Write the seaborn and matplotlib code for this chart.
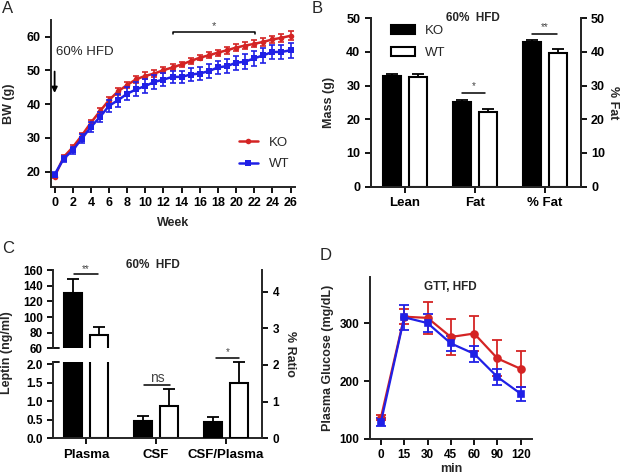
import numpy as np
import pandas as pd
import matplotlib
matplotlib.use("Agg")
import matplotlib.pyplot as plt
import seaborn as sns

# ── A: body weight on 60% HFD ───────────────────────────────────────────────
weeks = list(range(27))
ko_bw = [18.5, 24.3, 27.2, 30.7, 34.5, 37.9, 41.2, 43.8, 45.7, 47.4, 48.4, 49.1, 50.1, 50.9,
         51.8, 52.8, 53.8, 54.5, 55.3, 56.0, 56.8, 57.4, 57.9, 58.5, 59.2, 59.7, 60.3]
ko_bw_err = [0.5, 0.6, 0.7, 0.8, 0.9, 0.9, 1.0, 1.0, 1.0, 1.0, 1.0, 0.9, 0.9, 0.9,
             0.8, 0.8, 0.8, 0.9, 0.9, 1.0, 1.0, 1.0, 1.0, 1.1, 1.1, 1.2, 1.3]
wt_bw = [19.1, 23.8, 26.3, 29.8, 33.2, 36.2, 39.5, 41.2, 43.1, 44.4, 45.4, 46.6, 47.3, 48.1,
         48.1, 48.8, 49.1, 49.8, 50.9, 51.3, 52.3, 52.6, 53.6, 54.5, 55.5, 55.5, 56.0]
wt_bw_err = [0.8, 0.9, 1.0, 1.3, 1.5, 1.6, 1.8, 1.9, 2.0, 2.1, 2.1, 2.1, 2.0, 1.8,
             1.8, 1.9, 2.0, 2.0, 2.0, 2.1, 2.1, 2.2, 2.2, 2.2, 2.2, 2.2, 2.2]

# ── B: body composition ─────────────────────────────────────────────────────
b_cats = ["Lean", "Fat", "% Fat"]
b_ko = [32.9, 25.0, 42.9]
b_ko_err = [0.5, 0.7, 0.8]
b_wt = [32.5, 22.3, 39.8]
b_wt_err = [1.0, 0.7, 1.0]

# ── C: leptin ───────────────────────────────────────────────────────────────
c_cats = ["Plasma", "CSF", "CSF/Plasma"]
c_ko = [130.8, 0.48, 0.44]
c_ko_err = [17.5, 0.12, 0.13]
c_wt = [77.0, 0.88, 1.52]
c_wt_err = [10.5, 0.44, 0.55]

# ── D: GTT ──────────────────────────────────────────────────────────────────
d_times = ["0", "15", "30", "45", "60", "90", "120"]
d_ko = [137, 311, 309, 276, 282, 239, 221]
d_ko_err = [5, 13, 28, 31, 31, 31, 31]
d_wt = [129, 310, 300, 265, 247, 207, 178]
d_wt_err = [7, 22, 15, 13, 14, 13, 12]

RED = "#d42424"
BLUE = "#2020e6"
groups = ["KO", "WT"]
bar_pal = {"KO": "black", "WT": "white"}
dodge = {"KO": -0.1875, "WT": 0.1875}

sns.set_style("ticks")
plt.rcParams["font.family"] = ["Liberation Sans", "DejaVu Sans"]
plt.rcParams["font.weight"] = "bold"
plt.rcParams["axes.labelweight"] = "bold"
plt.rcParams["axes.labelsize"] = 9
plt.rcParams["axes.linewidth"] = 1.4
plt.rcParams["xtick.labelsize"] = 8.5
plt.rcParams["ytick.labelsize"] = 8.5
for a in ("xtick", "ytick"):
    plt.rcParams[f"{a}.major.width"] = 1.3
    plt.rcParams[f"{a}.major.size"] = 4
    plt.rcParams[f"{a}.direction"] = "out"
    plt.rcParams[f"{a}.color"] = "black"

fig = plt.figure(figsize=(6.21, 4.75), dpi=100)

axA = fig.add_axes([0.0821, 0.607, 0.393, 0.351])
axB = fig.add_axes([0.597, 0.607, 0.338, 0.3545])
axC_lo = fig.add_axes([0.0858, 0.0773, 0.3366, 0.1606])
axC_hi = fig.add_axes([0.0858, 0.2667, 0.3366, 0.1648])
axC_r = fig.add_axes([0.0858, 0.0773, 0.3366, 0.3543])
axD = fig.add_axes([0.5958, 0.0758, 0.2604, 0.3404])


def bar_errors(ax, idx, ko, ko_err, wt, wt_err):
    idx = np.asarray(idx)
    for g, v, e in (("KO", ko, ko_err), ("WT", wt, wt_err)):
        v = np.asarray(v)[idx]
        e = np.asarray(e)[idx]
        ax.errorbar(idx + dodge[g], v, yerr=[np.zeros_like(e), e], fmt="none",
                    ecolor="black", elinewidth=1.3, capsize=4, capthick=1.3, zorder=1)


def sig(ax, x0, x1, y, txt, dy, size=7):
    ax.plot([x0, x1], [y, y], color="black", lw=1.1, clip_on=False)
    ax.text((x0 + x1) / 2, y + dy, txt, ha="center", va="bottom", fontsize=size,
            fontweight="normal", color="#444444")


# ── A ───────────────────────────────────────────────────────────────────────
sns.lineplot(x=weeks, y=ko_bw, color=RED, marker="o", markersize=4, markeredgewidth=0,
             linewidth=1.8, ax=axA, label="KO")
axA.errorbar(weeks, ko_bw, yerr=ko_bw_err, fmt="none", ecolor=RED, elinewidth=1.2,
             capsize=2.5, capthick=1.2)
sns.lineplot(x=weeks, y=wt_bw, color=BLUE, marker="s", markersize=4, markeredgewidth=0,
             linewidth=1.8, ax=axA, label="WT")
axA.errorbar(weeks, wt_bw, yerr=wt_bw_err, fmt="none", ecolor=BLUE, elinewidth=1.2,
             capsize=2.5, capthick=1.2)
axA.set_xlim(-0.4, 26.5)
axA.set_ylim(15.5, 65)
axA.set_xticks(range(0, 27, 2))
axA.set_yticks(range(20, 61, 10))
axA.tick_params(labelsize=9)
axA.set_xlabel("Week", labelpad=6)
axA.set_ylabel("BW (g)", labelpad=8)
sns.despine(ax=axA)
axA.legend(loc="center left", bbox_to_anchor=(0.72, 0.2), frameon=False, handlelength=1.5,
           labelspacing=0.7, prop={"weight": "normal", "size": 9.5})
axA.plot([13.1, 13.1, 22.1, 22.1], [60.7, 61.3, 61.3, 60.7], color="black", lw=1.1)
axA.text(17.6, 61.6, "*", ha="center", va="bottom", fontsize=8, fontweight="normal",
         color="#444444")
axA.text(0.2, 55.5, "60% HFD", fontsize=9.5, fontweight="normal", va="center")
axA.annotate("", xy=(0, 42.5), xytext=(0, 50.5),
             arrowprops=dict(arrowstyle="-|>", color="black", lw=1.3, mutation_scale=8))

# ── B ───────────────────────────────────────────────────────────────────────
dfB = pd.DataFrame({"cat": b_cats * 2, "group": ["KO"] * 3 + ["WT"] * 3, "val": b_ko + b_wt})
bar_errors(axB, [0, 1, 2], b_ko, b_ko_err, b_wt, b_wt_err)
sns.barplot(data=dfB, x="cat", y="val", hue="group", hue_order=groups, palette=bar_pal,
            edgecolor="black", linewidth=1.5, width=0.75, gap=0.33, errorbar=None, ax=axB)
axB.set_xlim(-0.49, 2.51)
axB.set_ylim(0, 50)
axB.set_yticks(range(0, 51, 10))
axB.set_xlabel("")
axB.set_ylabel("Mass (g)", labelpad=8)
axB.tick_params(axis="y", labelsize=9)
axB.tick_params(axis="x", labelsize=9.5)
axB.spines["top"].set_visible(False)
axB.legend(loc="upper left", bbox_to_anchor=(0.04, 1.03), frameon=False, title=None,
           handlelength=1.8, handleheight=0.7, labelspacing=0.7,
           prop={"weight": "normal", "size": 9.5})
axB2 = axB.twinx()
axB2.set_ylim(0, 50)
axB2.set_yticks(range(0, 51, 10))
axB2.tick_params(axis="y", labelsize=9)
axB2.set_ylabel("% Fat", rotation=270, labelpad=10)
axB2.spines["top"].set_visible(False)
sig(axB, 0.82, 1.15, 27.7, "*", 0.6)
sig(axB, 1.82, 2.17, 45.2, "**", 0.6)
axB.text(0.487, 1.0, "60%  HFD", transform=axB.transAxes, ha="center", va="center",
         fontsize=8.5)

# ── C ───────────────────────────────────────────────────────────────────────
dfC = pd.DataFrame({"cat": c_cats * 2, "group": ["KO"] * 3 + ["WT"] * 3, "val": c_ko + c_wt})
dfC_left = dfC[dfC["cat"] != "CSF/Plasma"]
dfC_right = dfC[dfC["cat"] == "CSF/Plasma"]
bar_kw = dict(x="cat", y="val", hue="group", order=c_cats, hue_order=groups, palette=bar_pal,
              edgecolor="black", linewidth=1.5, width=0.75, gap=0.33, errorbar=None,
              legend=False)
bar_errors(axC_hi, [0], c_ko, c_ko_err, c_wt, c_wt_err)
sns.barplot(data=dfC_left, ax=axC_hi, **bar_kw)
bar_errors(axC_lo, [1], c_ko, c_ko_err, c_wt, c_wt_err)
sns.barplot(data=dfC_left, ax=axC_lo, **bar_kw)
bar_errors(axC_r, [2], c_ko, c_ko_err, c_wt, c_wt_err)
sns.barplot(data=dfC_right, ax=axC_r, **bar_kw)

for ax in (axC_lo, axC_hi, axC_r):
    ax.set_xlim(-0.47, 2.52)
    ax.set_xlabel("")
    ax.set_ylabel("")
    for s in ax.spines.values():
        s.set_visible(False)

axC_hi.set_ylim(60, 160)
axC_hi.set_yticks(range(60, 161, 20))
axC_hi.spines["left"].set_visible(True)
axC_hi.set_xticks([])

axC_lo.set_ylim(0, 2.06)
axC_lo.set_yticks([0, 0.5, 1.0, 1.5, 2.0])
axC_lo.set_yticklabels(["0.0", "0.5", "1.0", "1.5", "2.0"])
axC_lo.spines["left"].set_visible(True)
axC_lo.spines["bottom"].set_visible(True)
axC_lo.tick_params(axis="x", labelsize=9.5)

axC_r.patch.set_visible(False)
axC_r.set_ylim(0, 4.59)
axC_r.set_yticks(range(0, 5))
axC_r.spines["right"].set_visible(True)
axC_r.yaxis.tick_right()
axC_r.yaxis.set_label_position("right")
axC_r.set_ylabel("% Ratio", rotation=270, labelpad=12)
axC_r.set_xticks([])

# axis-break stubs
axC_hi.plot([0, 0.025], [0, 0], transform=axC_hi.transAxes, color="black", lw=1.3,
            clip_on=False)
axC_lo.plot([0, 0.025], [1, 1], transform=axC_lo.transAxes, color="black", lw=1.3,
            clip_on=False)

sig(axC_hi, -0.17, 0.17, 154.6, "**", 0.5)
sig(axC_lo, 0.83, 1.2, 1.44, "ns", 0.0, size=10)
sig(axC_r, 1.86, 2.19, 2.2, "*", 0.02)
fig.text(0.246, 0.442, "60%  HFD", ha="center", va="center", fontsize=8.5)
fig.text(0.012, 0.258, "Leptin (ng/ml)", rotation=90, ha="center", va="center", fontsize=9)

# ── D ───────────────────────────────────────────────────────────────────────
dfD = pd.DataFrame({"time": d_times * 2, "group": ["KO"] * 7 + ["WT"] * 7,
                    "glu": d_ko + d_wt})
xi = np.arange(len(d_times))
axD.errorbar(xi, d_ko, yerr=d_ko_err, fmt="none", ecolor=RED, elinewidth=1.3, capsize=3.5,
             capthick=1.3)
axD.errorbar(xi, d_wt, yerr=d_wt_err, fmt="none", ecolor=BLUE, elinewidth=1.3, capsize=3.5,
             capthick=1.3)
sns.pointplot(data=dfD, x="time", y="glu", hue="group", hue_order=groups,
              palette={"KO": RED, "WT": BLUE}, markers=["o", "s"], markersize=5,
              linewidth=1.6, errorbar=None, dodge=False, legend=False, ax=axD)
axD.set_xlim(-0.47, 6.47)
axD.set_ylim(100, 379)
axD.set_yticks([100, 200, 300])
axD.tick_params(labelsize=8.5)
axD.set_xlabel("min", labelpad=1)
axD.set_ylabel("Plasma Glucose (mg/dL)")
sns.despine(ax=axD)
axD.text(0.495, 0.942, "GTT, HFD", transform=axD.transAxes, ha="center", va="center",
         fontsize=8.5)

# panel letters
for x, y, s in ((0.003, 0.998, "A"), (0.502, 0.998, "B"), (0.003, 0.493, "C"),
                (0.515, 0.478, "D")):
    fig.text(x, y, s, ha="left", va="top", fontsize=12, fontweight="normal")

fig.savefig("out.png", dpi=100)
